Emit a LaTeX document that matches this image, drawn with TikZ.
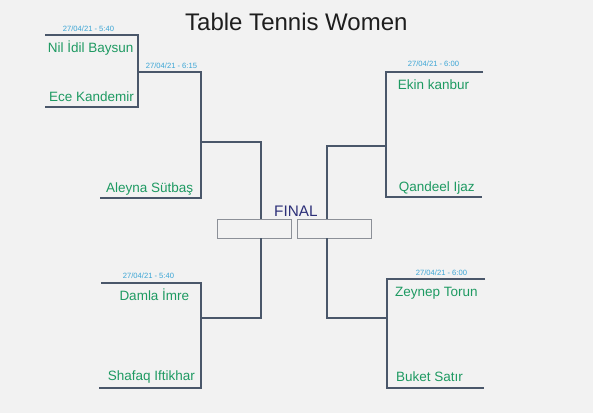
\documentclass[tikz,border=0pt]{standalone}
\usepackage{fontspec}
\setmainfont{Liberation Sans}
\definecolor{bgc}{HTML}{F2F2F2}
\definecolor{linec}{HTML}{4A576A}
\definecolor{namec}{HTML}{1E9A62}
\definecolor{datec}{HTML}{3BA5D5}
\definecolor{finalc}{HTML}{2C2F78}
\definecolor{boxc}{HTML}{8C9098}
\definecolor{titlec}{HTML}{1E1E1E}
\begin{document}
\begin{tikzpicture}[x=1pt,y=-1pt,
  bline/.style={draw=linec,line width=1.1pt},
  pname/.style={text=namec,font=\fontsize{13.5}{16}\selectfont,inner sep=0pt,anchor=base west},
  pdate/.style={text=datec,font=\fontsize{7.6}{9}\selectfont,inner sep=0pt,anchor=base west},
  finalbox/.style={draw=boxc,fill=bgc,line width=1.1pt,minimum width=74pt,minimum height=19pt,inner sep=0pt,anchor=north west}]
\fill[bgc] (0,0) rectangle (593,413);
\useasboundingbox (0,0) rectangle (593,413);

% title
\node[text=titlec,font=\fontsize{24}{28}\selectfont,inner sep=0pt,anchor=base west] (title) at (185,30) {Table Tennis Women};

% final
\node[text=finalc,font=\fontsize{15.3}{18}\selectfont,inner sep=0pt,anchor=base west] (final) at (274,216.7) {FINAL};
\node[finalbox] (fl) at (217,219) {};
\node[finalbox] (fr) at (297,219) {};

% coordinates
\coordinate (m1a) at (45,35);
\coordinate (m1b) at (138,35);
\coordinate (m1c) at (138,107);
\coordinate (m1d) at (45,107);
\coordinate (m1o) at (138,72);
\coordinate (m2a) at (201,72);
\coordinate (m2b) at (201,198);
\coordinate (m2c) at (100,198);
\coordinate (m2o) at (201,142);
\coordinate (m3a) at (101,283);
\coordinate (m3b) at (201,283);
\coordinate (m3c) at (201,388);
\coordinate (m3d) at (99,388);
\coordinate (m3o) at (201,318);
\coordinate (flin) at (261,219);
\coordinate (flout) at (261,238);
\coordinate (m4a) at (483,72);
\coordinate (m4b) at (386,72);
\coordinate (m4c) at (386,197);
\coordinate (m4d) at (482,197);
\coordinate (m4o) at (386,146);
\coordinate (m5a) at (485,279);
\coordinate (m5b) at (387,279);
\coordinate (m5c) at (387,388);
\coordinate (m5d) at (484,388);
\coordinate (m5o) at (387,318);
\coordinate (frin) at (327,219);
\coordinate (frout) at (327,238);

% brackets
\draw[bline] (m1a) -- (m1b) -- (m1c) -- (m1d);
\draw[bline] (m1o) -- (m2a) -- (m2b) -- (m2c);
\draw[bline] (m2o) -| (flin);
\draw[bline] (m3a) -- (m3b) -- (m3c) -- (m3d);
\draw[bline] (m3o) -| (flout);
\draw[bline] (m4a) -- (m4b) -- (m4c) -- (m4d);
\draw[bline] (m4o) -| (frin);
\draw[bline] (m5a) -- (m5b) -- (m5c) -- (m5d);
\draw[bline] (m5o) -| (frout);

% dates
\node[pdate] (d1) at (62.7,31.3) {27/04/21 - 5:40};
\node[pdate] (d2) at (145.7,68.3) {27/04/21 - 6:15};
\node[pdate] (d3) at (122.7,278.7) {27/04/21 - 5:40};
\node[pdate] (d4) at (407.7,66.7) {27/04/21 - 6:00};
\node[pdate] (d5) at (415.7,275.7) {27/04/21 - 6:00};

% names
\node[pname] (n1) at (47.7,52.3) {Nil İdil Baysun};
\node[pname] (n2) at (49,101) {Ece Kandemir};
\node[pname] (n3) at (106,192.3) {Aleyna Sütbaş};
\node[pname] (n4) at (119.3,300.7) {Damla İmre};
\node[pname] (n5) at (107.7,380.7) {Shafaq Iftikhar};
\node[pname] (n6) at (397.7,89) {Ekin kanbur};
\node[pname] (n7) at (398.7,191) {Qandeel Ijaz};
\node[pname] (n8) at (395,296.7) {Zeynep Torun};
\node[pname] (n9) at (396,381.7) {Buket Satır};
\end{tikzpicture}
\end{document}
